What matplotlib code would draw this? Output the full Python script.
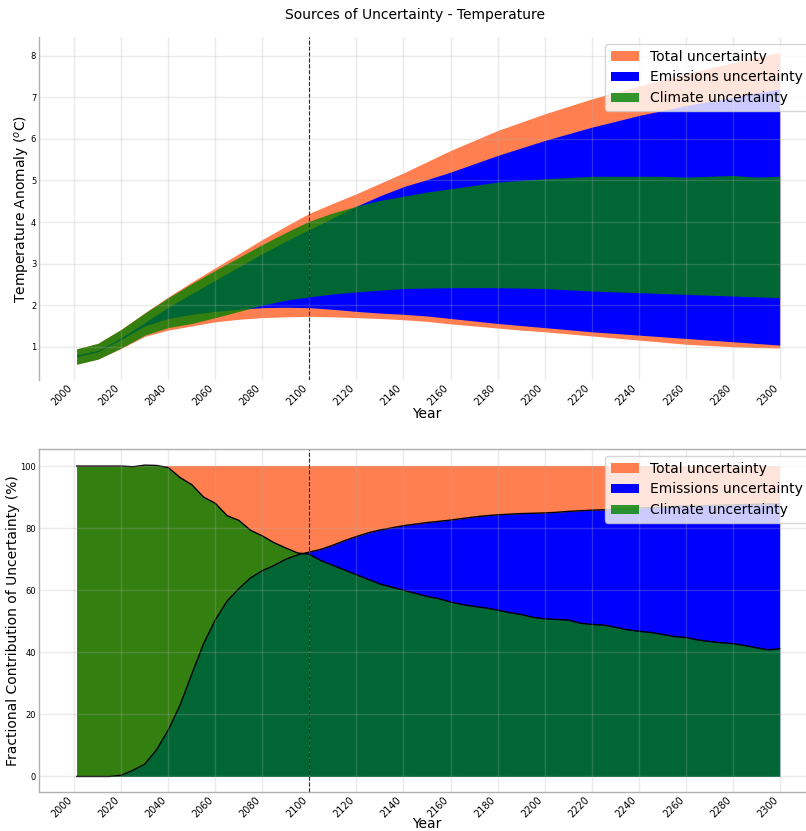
import matplotlib
matplotlib.use("Agg")
import matplotlib.pyplot as plt

# ---- data ----
years_top = [2001] + list(range(2010, 2301, 10))

total_hi = [0.95, 1.08, 1.42, 1.82, 2.20, 2.56, 2.90, 3.24, 3.58, 3.90, 4.21,
            4.45, 4.68, 4.93, 5.18, 5.45, 5.72, 5.96, 6.20, 6.40, 6.60,
            6.78, 6.96, 7.12, 7.27, 7.42, 7.56, 7.70, 7.83, 7.96, 8.08]
total_lo = [0.58, 0.70, 0.96, 1.25, 1.40, 1.50, 1.60, 1.66, 1.70, 1.72, 1.73,
            1.72, 1.70, 1.68, 1.65, 1.61, 1.55, 1.50, 1.45, 1.40, 1.36,
            1.31, 1.26, 1.21, 1.16, 1.11, 1.06, 1.03, 1.00, 0.98, 0.97]
emis_hi = [0.80, 0.91, 1.22, 1.58, 1.95, 2.28, 2.60, 2.92, 3.24, 3.54, 3.82,
           4.10, 4.38, 4.63, 4.85, 5.02, 5.20, 5.40, 5.60, 5.78, 5.96,
           6.12, 6.28, 6.42, 6.56, 6.68, 6.80, 6.90, 7.00, 7.10, 7.20]
emis_lo = [0.76, 0.88, 1.18, 1.50, 1.68, 1.78, 1.85, 1.90, 1.94, 1.95, 1.94,
           1.90, 1.85, 1.81, 1.78, 1.74, 1.68, 1.62, 1.56, 1.51, 1.46,
           1.41, 1.36, 1.32, 1.28, 1.24, 1.20, 1.16, 1.12, 1.08, 1.04]
clim_hi = [0.95, 1.08, 1.42, 1.81, 2.18, 2.52, 2.84, 3.15, 3.46, 3.75, 4.02,
           4.22, 4.38, 4.52, 4.62, 4.72, 4.80, 4.88, 4.96, 5.00, 5.04,
           5.07, 5.10, 5.10, 5.10, 5.10, 5.08, 5.10, 5.12, 5.08, 5.10]
clim_lo = [0.58, 0.70, 0.97, 1.28, 1.46, 1.56, 1.70, 1.85, 2.00, 2.12, 2.20,
           2.27, 2.32, 2.36, 2.40, 2.41, 2.42, 2.42, 2.42, 2.41, 2.40,
           2.37, 2.34, 2.32, 2.30, 2.28, 2.26, 2.24, 2.22, 2.20, 2.18]

years_bot = [2001] + list(range(2005, 2301, 5))

emis_frac = [0, 0, 0, 0, 0.4, 2, 4, 8.6, 15, 23, 33, 42.8, 50.5, 56.5, 60.5,
             64, 66.3, 68, 70, 71.4, 72.3, 73.2, 74.5, 76, 77.3, 78.5, 79.4,
             80.1, 80.8, 81.3, 81.8, 82.2, 82.6, 83.1, 83.6, 84, 84.3, 84.5,
             84.7, 84.8, 84.9, 85.1, 85.4, 85.6, 85.8, 85.9, 86.1, 86.3, 86.5,
             86.6, 86.8, 87, 87.1, 87.2, 87.3, 87.4, 87.5, 87.6, 87.7, 87.8, 87.8]
clim_frac = [100, 100, 100, 100, 100, 99.8, 100.3, 100.2, 99.5, 96.3, 94, 90,
             88, 84, 82.5, 79.3, 77.5, 75.3, 73.6, 72, 71.6, 69.5, 68, 66.5,
             65, 63.5, 62, 61, 60, 59, 58, 57.3, 56.2, 55.4, 54.8, 54.3, 53.6,
             52.8, 52.2, 51.3, 50.8, 50.6, 50.4, 49.4, 49, 48.8, 48.1, 47.3,
             46.8, 46.4, 45.8, 45.1, 44.8, 44, 43.5, 43.1, 42.8, 42.2, 41.5,
             40.8, 41.2]

xticks = list(range(2000, 2301, 20))
ref_year = 2100

c_total = "coral"
c_emis = "blue"
c_clim = "green"

fig = plt.figure(figsize=(8.06, 8.31), dpi=100)
W, H = 806.0, 831.0
ax1 = fig.add_axes([39 / W, 1 - 380 / H, (815 - 39) / W, (380 - 37) / H])
ax2 = fig.add_axes([39 / W, 1 - 792 / H, (815 - 39) / W, (792 - 449) / H])


def style_axes(ax):
    ax.set_axisbelow(False)
    ax.grid(True, color="#b0b0b0", alpha=0.25, linewidth=1)
    ax.set_xticks(xticks)
    ax.set_xlim(1985, 2315)
    ax.tick_params(axis="both", length=0, pad=2)
    ax.tick_params(axis="x", labelsize=7)
    ax.tick_params(axis="y", labelsize=6)
    for lab in ax.get_xticklabels():
        lab.set_rotation(45)
        lab.set_ha("right")
    for s in ax.spines.values():
        s.set_color("#b0b0b0")
        s.set_linewidth(1)
    ax.axvline(ref_year, color="black", linestyle="--", linewidth=0.8)


# top panel: temperature ranges
ax1.fill_between(years_top, total_lo, total_hi, color=c_total, lw=0,
                 label="Total uncertainty")
ax1.fill_between(years_top, emis_lo, emis_hi, color=c_emis, lw=0,
                 label="Emissions uncertainty")
ax1.fill_between(years_top, clim_lo, clim_hi, color=c_clim, alpha=0.8, lw=0,
                 label="Climate uncertainty")
style_axes(ax1)
ax1.set_ylim(0.2, 8.45)
ax1.set_yticks(range(1, 9))
ax1.set_xlabel("Year", fontsize=10, labelpad=0)
ax1.set_ylabel("Temperature Anomaly ($^o$C)", fontsize=10, labelpad=-1)
for s in ["top", "right", "bottom"]:
    ax1.spines[s].set_visible(False)
ax1.legend(loc="upper right", fontsize=10)

# bottom panel: fractional contributions
ax2.fill_between(years_bot, 0, 100, color=c_total, lw=0,
                 label="Total uncertainty")
ax2.fill_between(years_bot, 0, emis_frac, color=c_emis, lw=0,
                 label="Emissions uncertainty")
ax2.fill_between(years_bot, 0, clim_frac, color=c_clim, alpha=0.8, lw=0,
                 label="Climate uncertainty")
ax2.plot(years_bot, emis_frac, color="black", lw=1)
ax2.plot(years_bot, clim_frac, color="black", lw=1)
style_axes(ax2)
ax2.set_ylim(-5, 105.5)
ax2.set_yticks(range(0, 101, 20))
ax2.set_xlabel("Year", fontsize=10, labelpad=-2)
ax2.set_ylabel("Fractional Contribution of Uncertainty (%)", fontsize=10,
               labelpad=0)
ax2.spines["right"].set_visible(False)
ax2.legend(loc="upper right", fontsize=10)

fig.text(415 / W, 1 - 15 / H, "Sources of Uncertainty - Temperature",
         ha="center", va="center", fontsize=10)

fig.savefig("out.png", dpi=100)
